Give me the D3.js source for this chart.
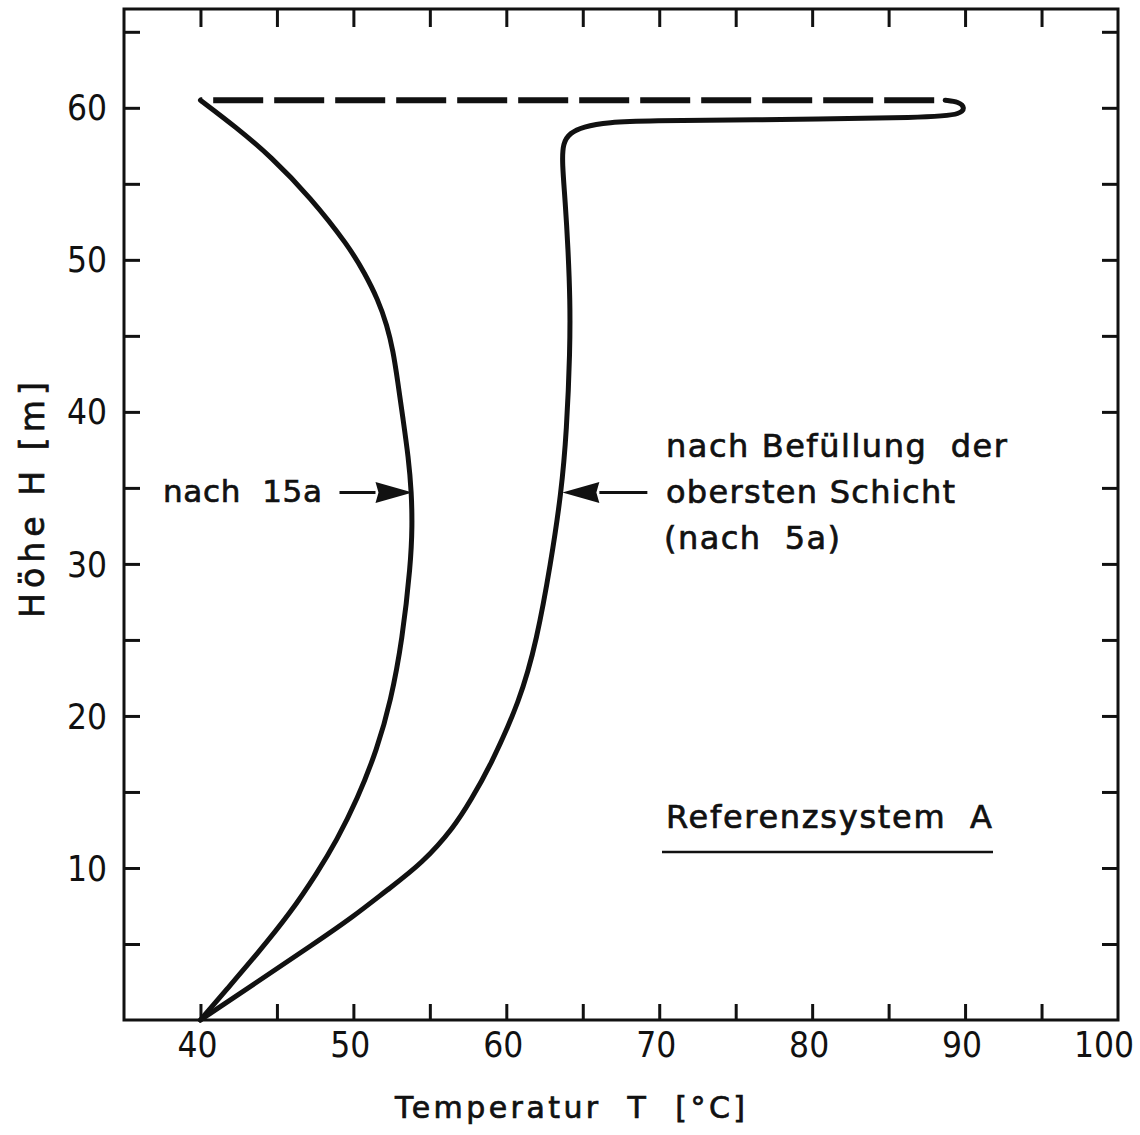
<!DOCTYPE html>
<html>
<head>
<meta charset="utf-8">
<script src="https://cdn.jsdelivr.net/npm/d3@7"></script>
<style>
  body { margin: 0; background: #fff; }
  svg { display: block; }
  text { fill: #111; font-family: "DejaVu Sans", sans-serif; }
  .tick-label { font-family: "DejaVu Sans Condensed", "DejaVu Sans", sans-serif; font-size: 35px; }
  .note { stroke: #111; stroke-width: 0.7px; }
</style>
</head>
<body>
<svg id="chart" width="1140" height="1135"></svg>
<script>
// Axis ticks
const xTicksMajor = [40, 50, 60, 70, 80, 90, 100];
const xTicksMinor = [40, 45, 50, 55, 60, 65, 70, 75, 80, 85, 90, 95];
const yTicksMajor = [10, 20, 30, 40, 50, 60];
const yTicksMinor = [5, 10, 15, 20, 25, 30, 35, 40, 45, 50, 55, 60, 65];

// Temperature profile after 15 years (height in m, temperature in °C)
const heights15a = [0, 2.0, 4.4, 7.0, 9.7, 11.8, 14.5, 17.8, 21.0, 25.0, 30.0, 32.5, 34.7, 37.0, 39.5, 42.0, 44.0, 45.7, 47.4, 49.1, 50.9, 54.1, 56.8, 58.75, 60.5];
const temps15a   = [40.0, 41.7, 43.75, 45.85, 47.65, 48.9, 50.25, 51.55, 52.45, 53.2, 53.75, 53.85, 53.8, 53.6, 53.25, 52.9, 52.6, 52.2, 51.6, 50.75, 49.7, 47.2, 44.6, 42.3, 40.0];

// Temperature profile after filling the top layer (after 5 years)
const heights5a = [0, 2.5, 5.0, 6.8, 8.55, 10.3, 12.7, 14.5, 16.6, 21.0, 25.0, 30.0, 34.7, 38.8, 44.1, 47.4, 50.7, 53.9, 56.4, 57.7, 58.35, 58.75, 59.05, 59.15, 59.2, 59.35, 59.6, 60.0, 60.4, 60.5];
const temps5a   = [40.0, 43.7, 47.4, 50.0, 52.2, 54.5, 56.6, 57.7, 58.9, 60.9, 62.0, 62.9, 63.6, 63.95, 64.17, 64.17, 64.04, 63.85, 63.65, 63.7, 64.17, 65.0, 66.6, 69.5, 75.0, 88.2, 89.7, 90.0, 89.6, 88.7];

// Top layer (dashed)
const topLayerTemps = [88.7, 40.0];
const topLayerHeights = [60.5, 60.5];

// Annotation arrows point at the curves at this height
const arrowHeight = 34.7;
const arrow15aTemp = 53.8;
const arrow5aTemp = 63.6;

const svg = d3.select("#chart");
const x = d3.scaleLinear().domain([35, 100]).range([124, 1118]);
const y = d3.scaleLinear().domain([0, 66.5]).range([1020, 9]);
const tickLen = 16;

// Inward ticks on all four sides
function tickAxis(axis, transform) {
  const g = svg.append("g").attr("transform", transform).call(axis);
  g.select(".domain").remove();
  g.selectAll("line").attr("stroke", "#111").attr("stroke-width", 3);
  g.selectAll("text").remove();
}
tickAxis(d3.axisBottom(x).tickValues(xTicksMinor).tickSize(-tickLen), "translate(0,1020)");
tickAxis(d3.axisTop(x).tickValues(xTicksMinor).tickSize(-tickLen - 2), "translate(0,9)");
tickAxis(d3.axisLeft(y).tickValues(yTicksMinor).tickSize(-tickLen), "translate(124,0)");
tickAxis(d3.axisRight(y).tickValues(yTicksMinor).tickSize(-tickLen), "translate(1118,0)");

// Frame
svg.append("rect")
  .attr("x", x(35)).attr("y", y(66.5))
  .attr("width", x(100) - x(35)).attr("height", y(0) - y(66.5))
  .attr("fill", "none").attr("stroke", "#111").attr("stroke-width", 3);

// Tick labels
const xLabels = svg.append("g").selectAll("text").data(xTicksMajor).join("text")
  .attr("class", "tick-label")
  .attr("x", d => x(d) - 3).attr("y", 1057)
  .attr("text-anchor", "middle")
  .text(d => d);
xLabels.each(function () {
  const b = this.getBBox();
  if (b.x + b.width > 1134) d3.select(this).attr("x", +d3.select(this).attr("x") - (b.x + b.width - 1134));
});

svg.append("g").selectAll("text").data(yTicksMajor).join("text")
  .attr("class", "tick-label")
  .attr("x", 107).attr("y", d => y(d)).attr("dy", "0.36em")
  .attr("text-anchor", "end")
  .text(d => d);

// Axis titles
svg.append("text")
  .attr("class", "note")
  .attr("x", 395).attr("y", 1118)
  .attr("font-size", 30)
  .attr("textLength", 350).attr("lengthAdjust", "spacing")
  .attr("xml:space", "preserve")
  .text("Temperatur  T  [°C]");

svg.append("text")
  .attr("class", "note")
  .attr("transform", "translate(44,618) rotate(-90)")
  .attr("font-size", 33)
  .attr("textLength", 236).attr("lengthAdjust", "spacing")
  .text("Höhe H [m]");

// Smooth profile curves
const line = d3.line()
  .x(d => x(d[0])).y(d => y(d[1]))
  .curve(d3.curveBasis);

const curve15a = temps15a.map((t, i) => [t, heights15a[i]]);
const curve5a = temps5a.map((t, i) => [t, heights5a[i]]);
const topLayer = topLayerTemps.map((t, i) => [t, topLayerHeights[i]]);

svg.append("path").attr("d", line(curve15a))
  .attr("fill", "none").attr("stroke", "#111").attr("stroke-width", 5)
  .attr("stroke-linecap", "round").attr("stroke-linejoin", "round");
svg.append("path").attr("d", line(curve5a))
  .attr("fill", "none").attr("stroke", "#111").attr("stroke-width", 5)
  .attr("stroke-linecap", "round").attr("stroke-linejoin", "round");
svg.append("path").attr("d", d3.line().x(d => x(d[0])).y(d => y(d[1]))(topLayer))
  .attr("fill", "none").attr("stroke", "#111").attr("stroke-width", 6)
  .attr("stroke-dasharray", "50 11").attr("stroke-dashoffset", 50);

// Arrows
function arrow(tipX, tipY, dir, tail) {
  const headLen = 37, half = 10.5;
  const bx = tipX + dir * headLen;
  svg.append("line")
    .attr("x1", bx).attr("y1", tipY).attr("x2", bx + dir * tail).attr("y2", tipY)
    .attr("stroke", "#111").attr("stroke-width", 3);
  svg.append("path")
    .attr("d", `M${tipX},${tipY} L${bx},${tipY - half} L${bx - dir * 3},${tipY} L${bx},${tipY + half} Z`)
    .attr("fill", "#111");
}
arrow(x(arrow15aTemp) + 1, y(arrowHeight), -1, 36);
arrow(x(arrow5aTemp) + 1, y(arrowHeight), 1, 48);

// Annotations
function label(txt, x0, yb, w, size) {
  svg.append("text")
    .attr("class", "note")
    .attr("x", x0).attr("y", yb)
    .attr("font-size", size)
    .attr("textLength", w).attr("lengthAdjust", "spacing")
    .attr("xml:space", "preserve")
    .text(txt);
}
label("nach  15a", 163, 502, 159, 31);
label("nach Befüllung  der", 666, 457, 341, 32);
label("obersten Schicht", 666, 503, 289, 32);
label("(nach  5a)", 664, 549, 176, 32);
label("Referenzsystem  A", 666, 828, 326, 32);
svg.append("line")
  .attr("x1", 662).attr("x2", 993).attr("y1", 852).attr("y2", 852)
  .attr("stroke", "#111").attr("stroke-width", 2.5);
</script>
</body>
</html>
